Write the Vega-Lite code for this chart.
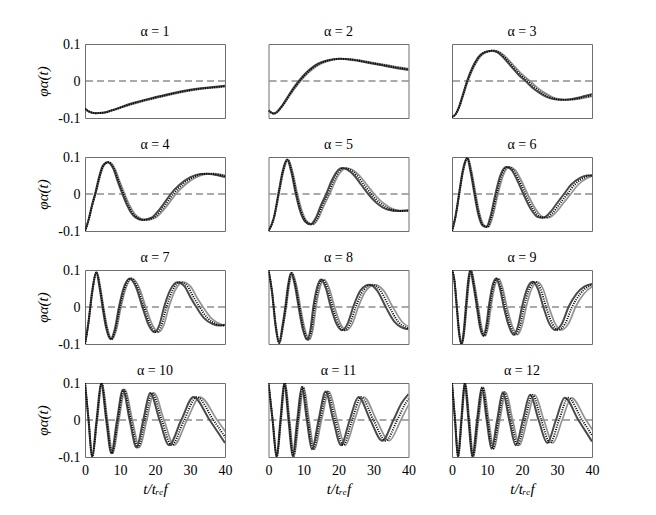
{
  "$schema": "https://vega.github.io/schema/vega-lite/v6.json",
  "background": "white",
  "padding": {"left": 35, "top": 24, "right": 5, "bottom": 5},
  "data": {"values": [
    {"a":1,"s":"A","t":0,"y":-0.075},{"a":1,"s":"A","t":1,"y":-0.082},{"a":1,"s":"A","t":3,"y":-0.087},{"a":1,"s":"A","t":5,"y":-0.086},{"a":1,"s":"A","t":8,"y":-0.078},{"a":1,"s":"A","t":11,"y":-0.068},{"a":1,"s":"A","t":14,"y":-0.059},{"a":1,"s":"A","t":17,"y":-0.051},{"a":1,"s":"A","t":20,"y":-0.044},{"a":1,"s":"A","t":24,"y":-0.035},{"a":1,"s":"A","t":28,"y":-0.027},{"a":1,"s":"A","t":32,"y":-0.021},{"a":1,"s":"A","t":36,"y":-0.017},{"a":1,"s":"A","t":40,"y":-0.013},
    {"a":1,"s":"B","t":0,"y":-0.075},{"a":1,"s":"B","t":1.03,"y":-0.082},{"a":1,"s":"B","t":3.09,"y":-0.087},{"a":1,"s":"B","t":5.15,"y":-0.086},{"a":1,"s":"B","t":8.24,"y":-0.078},{"a":1,"s":"B","t":11.33,"y":-0.068},{"a":1,"s":"B","t":14.42,"y":-0.059},{"a":1,"s":"B","t":17.51,"y":-0.051},{"a":1,"s":"B","t":20.6,"y":-0.044},{"a":1,"s":"B","t":24.72,"y":-0.035},{"a":1,"s":"B","t":28.84,"y":-0.027},{"a":1,"s":"B","t":32.96,"y":-0.021},{"a":1,"s":"B","t":37.08,"y":-0.017},{"a":1,"s":"B","t":41.2,"y":-0.013},
    {"a":1,"s":"C","t":0,"y":-0.075},{"a":1,"s":"C","t":1.06,"y":-0.082},{"a":1,"s":"C","t":3.18,"y":-0.087},{"a":1,"s":"C","t":5.3,"y":-0.086},{"a":1,"s":"C","t":8.48,"y":-0.078},{"a":1,"s":"C","t":11.66,"y":-0.068},{"a":1,"s":"C","t":14.84,"y":-0.059},{"a":1,"s":"C","t":18.02,"y":-0.051},{"a":1,"s":"C","t":21.2,"y":-0.044},{"a":1,"s":"C","t":25.44,"y":-0.035},{"a":1,"s":"C","t":29.68,"y":-0.027},{"a":1,"s":"C","t":33.92,"y":-0.021},{"a":1,"s":"C","t":38.16,"y":-0.017},{"a":1,"s":"C","t":42.4,"y":-0.013},

    {"a":2,"s":"A","t":0,"y":-0.08},{"a":2,"s":"A","t":1.5,"y":-0.088},{"a":2,"s":"A","t":4,"y":-0.065},{"a":2,"s":"A","t":6,"y":-0.035},{"a":2,"s":"A","t":8,"y":-0.008},{"a":2,"s":"A","t":10,"y":0.015},{"a":2,"s":"A","t":12,"y":0.033},{"a":2,"s":"A","t":14,"y":0.046},{"a":2,"s":"A","t":17,"y":0.056},{"a":2,"s":"A","t":20,"y":0.06},{"a":2,"s":"A","t":24,"y":0.057},{"a":2,"s":"A","t":28,"y":0.05},{"a":2,"s":"A","t":32,"y":0.043},{"a":2,"s":"A","t":36,"y":0.036},{"a":2,"s":"A","t":40,"y":0.03},
    {"a":2,"s":"B","t":0,"y":-0.08},{"a":2,"s":"B","t":1.55,"y":-0.088},{"a":2,"s":"B","t":4.12,"y":-0.065},{"a":2,"s":"B","t":6.18,"y":-0.035},{"a":2,"s":"B","t":8.24,"y":-0.008},{"a":2,"s":"B","t":10.3,"y":0.015},{"a":2,"s":"B","t":12.36,"y":0.033},{"a":2,"s":"B","t":14.42,"y":0.046},{"a":2,"s":"B","t":17.51,"y":0.056},{"a":2,"s":"B","t":20.6,"y":0.06},{"a":2,"s":"B","t":24.72,"y":0.057},{"a":2,"s":"B","t":28.84,"y":0.05},{"a":2,"s":"B","t":32.96,"y":0.043},{"a":2,"s":"B","t":37.08,"y":0.036},{"a":2,"s":"B","t":41.2,"y":0.03},
    {"a":2,"s":"C","t":0,"y":-0.08},{"a":2,"s":"C","t":1.59,"y":-0.088},{"a":2,"s":"C","t":4.24,"y":-0.065},{"a":2,"s":"C","t":6.36,"y":-0.035},{"a":2,"s":"C","t":8.48,"y":-0.008},{"a":2,"s":"C","t":10.6,"y":0.015},{"a":2,"s":"C","t":12.72,"y":0.033},{"a":2,"s":"C","t":14.84,"y":0.046},{"a":2,"s":"C","t":18.02,"y":0.056},{"a":2,"s":"C","t":21.2,"y":0.06},{"a":2,"s":"C","t":25.44,"y":0.057},{"a":2,"s":"C","t":29.68,"y":0.05},{"a":2,"s":"C","t":33.92,"y":0.043},{"a":2,"s":"C","t":38.16,"y":0.036},{"a":2,"s":"C","t":42.4,"y":0.03},

    {"a":3,"s":"A","t":0,"y":-0.097},{"a":3,"s":"A","t":1,"y":-0.09},{"a":3,"s":"A","t":2,"y":-0.07},{"a":3,"s":"A","t":3,"y":-0.04},{"a":3,"s":"A","t":4.3,"y":0},{"a":3,"s":"A","t":6,"y":0.04},{"a":3,"s":"A","t":8,"y":0.07},{"a":3,"s":"A","t":10,"y":0.08},{"a":3,"s":"A","t":11.5,"y":0.082},{"a":3,"s":"A","t":13,"y":0.077},{"a":3,"s":"A","t":15,"y":0.06},{"a":3,"s":"A","t":17,"y":0.038},{"a":3,"s":"A","t":19,"y":0.017},{"a":3,"s":"A","t":21,"y":0},{"a":3,"s":"A","t":23,"y":-0.018},{"a":3,"s":"A","t":25,"y":-0.032},{"a":3,"s":"A","t":27,"y":-0.043},{"a":3,"s":"A","t":29,"y":-0.049},{"a":3,"s":"A","t":31,"y":-0.051},{"a":3,"s":"A","t":34,"y":-0.049},{"a":3,"s":"A","t":37,"y":-0.043},{"a":3,"s":"A","t":40,"y":-0.036},
    {"a":3,"s":"B","t":0,"y":-0.097},{"a":3,"s":"B","t":1.03,"y":-0.09},{"a":3,"s":"B","t":2.06,"y":-0.07},{"a":3,"s":"B","t":3.09,"y":-0.04},{"a":3,"s":"B","t":4.43,"y":0},{"a":3,"s":"B","t":6.18,"y":0.04},{"a":3,"s":"B","t":8.24,"y":0.07},{"a":3,"s":"B","t":10.3,"y":0.08},{"a":3,"s":"B","t":11.85,"y":0.082},{"a":3,"s":"B","t":13.39,"y":0.077},{"a":3,"s":"B","t":15.45,"y":0.06},{"a":3,"s":"B","t":17.51,"y":0.038},{"a":3,"s":"B","t":19.57,"y":0.017},{"a":3,"s":"B","t":21.63,"y":0},{"a":3,"s":"B","t":23.69,"y":-0.018},{"a":3,"s":"B","t":25.75,"y":-0.032},{"a":3,"s":"B","t":27.81,"y":-0.043},{"a":3,"s":"B","t":29.87,"y":-0.049},{"a":3,"s":"B","t":31.93,"y":-0.051},{"a":3,"s":"B","t":35.02,"y":-0.049},{"a":3,"s":"B","t":38.11,"y":-0.043},{"a":3,"s":"B","t":41.2,"y":-0.036},
    {"a":3,"s":"C","t":0,"y":-0.097},{"a":3,"s":"C","t":1.06,"y":-0.09},{"a":3,"s":"C","t":2.12,"y":-0.07},{"a":3,"s":"C","t":3.18,"y":-0.04},{"a":3,"s":"C","t":4.56,"y":0},{"a":3,"s":"C","t":6.36,"y":0.04},{"a":3,"s":"C","t":8.48,"y":0.07},{"a":3,"s":"C","t":10.6,"y":0.08},{"a":3,"s":"C","t":12.19,"y":0.082},{"a":3,"s":"C","t":13.78,"y":0.077},{"a":3,"s":"C","t":15.9,"y":0.06},{"a":3,"s":"C","t":18.02,"y":0.038},{"a":3,"s":"C","t":20.14,"y":0.017},{"a":3,"s":"C","t":22.26,"y":0},{"a":3,"s":"C","t":24.38,"y":-0.018},{"a":3,"s":"C","t":26.5,"y":-0.032},{"a":3,"s":"C","t":28.62,"y":-0.043},{"a":3,"s":"C","t":30.74,"y":-0.049},{"a":3,"s":"C","t":32.86,"y":-0.051},{"a":3,"s":"C","t":36.04,"y":-0.049},{"a":3,"s":"C","t":39.22,"y":-0.043},{"a":3,"s":"C","t":42.4,"y":-0.036},

    {"a":4,"s":"A","t":0,"y":-0.1},{"a":4,"s":"A","t":1,"y":-0.07},{"a":4,"s":"A","t":2,"y":-0.03},{"a":4,"s":"A","t":3,"y":0.005},{"a":4,"s":"A","t":4,"y":0.045},{"a":4,"s":"A","t":5,"y":0.075},{"a":4,"s":"A","t":6.4,"y":0.086},{"a":4,"s":"A","t":8,"y":0.07},{"a":4,"s":"A","t":9.5,"y":0.03},{"a":4,"s":"A","t":10.7,"y":0},{"a":4,"s":"A","t":12,"y":-0.03},{"a":4,"s":"A","t":14,"y":-0.06},{"a":4,"s":"A","t":16.5,"y":-0.07},{"a":4,"s":"A","t":19,"y":-0.064},{"a":4,"s":"A","t":21,"y":-0.045},{"a":4,"s":"A","t":23,"y":-0.02},{"a":4,"s":"A","t":24.5,"y":0},{"a":4,"s":"A","t":27,"y":0.025},{"a":4,"s":"A","t":30,"y":0.045},{"a":4,"s":"A","t":33,"y":0.054},{"a":4,"s":"A","t":35,"y":0.055},{"a":4,"s":"A","t":37,"y":0.052},{"a":4,"s":"A","t":40,"y":0.046},
    {"a":4,"s":"B","t":0,"y":-0.1},{"a":4,"s":"B","t":1.03,"y":-0.07},{"a":4,"s":"B","t":2.06,"y":-0.03},{"a":4,"s":"B","t":3.09,"y":0.005},{"a":4,"s":"B","t":4.12,"y":0.045},{"a":4,"s":"B","t":5.15,"y":0.075},{"a":4,"s":"B","t":6.59,"y":0.086},{"a":4,"s":"B","t":8.24,"y":0.07},{"a":4,"s":"B","t":9.79,"y":0.03},{"a":4,"s":"B","t":11.02,"y":0},{"a":4,"s":"B","t":12.36,"y":-0.03},{"a":4,"s":"B","t":14.42,"y":-0.06},{"a":4,"s":"B","t":17,"y":-0.07},{"a":4,"s":"B","t":19.57,"y":-0.064},{"a":4,"s":"B","t":21.63,"y":-0.045},{"a":4,"s":"B","t":23.69,"y":-0.02},{"a":4,"s":"B","t":25.24,"y":0},{"a":4,"s":"B","t":27.81,"y":0.025},{"a":4,"s":"B","t":30.9,"y":0.045},{"a":4,"s":"B","t":33.99,"y":0.054},{"a":4,"s":"B","t":36.05,"y":0.055},{"a":4,"s":"B","t":38.11,"y":0.052},{"a":4,"s":"B","t":41.2,"y":0.046},
    {"a":4,"s":"C","t":0,"y":-0.1},{"a":4,"s":"C","t":1.06,"y":-0.07},{"a":4,"s":"C","t":2.12,"y":-0.03},{"a":4,"s":"C","t":3.18,"y":0.005},{"a":4,"s":"C","t":4.24,"y":0.045},{"a":4,"s":"C","t":5.3,"y":0.075},{"a":4,"s":"C","t":6.78,"y":0.086},{"a":4,"s":"C","t":8.48,"y":0.07},{"a":4,"s":"C","t":10.07,"y":0.03},{"a":4,"s":"C","t":11.34,"y":0},{"a":4,"s":"C","t":12.72,"y":-0.03},{"a":4,"s":"C","t":14.84,"y":-0.06},{"a":4,"s":"C","t":17.49,"y":-0.07},{"a":4,"s":"C","t":20.14,"y":-0.064},{"a":4,"s":"C","t":22.26,"y":-0.045},{"a":4,"s":"C","t":24.38,"y":-0.02},{"a":4,"s":"C","t":25.97,"y":0},{"a":4,"s":"C","t":28.62,"y":0.025},{"a":4,"s":"C","t":31.8,"y":0.045},{"a":4,"s":"C","t":34.98,"y":0.054},{"a":4,"s":"C","t":37.1,"y":0.055},{"a":4,"s":"C","t":39.22,"y":0.052},{"a":4,"s":"C","t":42.4,"y":0.046},

    {"a":5,"s":"A","t":0,"y":-0.1},{"a":5,"s":"A","t":1.5,"y":-0.065},{"a":5,"s":"A","t":3,"y":0.01},{"a":5,"s":"A","t":4,"y":0.06},{"a":5,"s":"A","t":5.3,"y":0.093},{"a":5,"s":"A","t":6.5,"y":0.06},{"a":5,"s":"A","t":7.8,"y":0},{"a":5,"s":"A","t":9,"y":-0.045},{"a":5,"s":"A","t":10.5,"y":-0.075},{"a":5,"s":"A","t":12,"y":-0.082},{"a":5,"s":"A","t":13.5,"y":-0.065},{"a":5,"s":"A","t":15,"y":-0.03},{"a":5,"s":"A","t":16.5,"y":0},{"a":5,"s":"A","t":18,"y":0.035},{"a":5,"s":"A","t":19.5,"y":0.06},{"a":5,"s":"A","t":21,"y":0.07},{"a":5,"s":"A","t":22.5,"y":0.066},{"a":5,"s":"A","t":24.5,"y":0.05},{"a":5,"s":"A","t":26.5,"y":0.025},{"a":5,"s":"A","t":28.5,"y":0},{"a":5,"s":"A","t":31,"y":-0.025},{"a":5,"s":"A","t":34,"y":-0.042},{"a":5,"s":"A","t":37,"y":-0.046},{"a":5,"s":"A","t":40,"y":-0.044},
    {"a":5,"s":"B","t":0,"y":-0.1},{"a":5,"s":"B","t":1.55,"y":-0.065},{"a":5,"s":"B","t":3.09,"y":0.01},{"a":5,"s":"B","t":4.12,"y":0.06},{"a":5,"s":"B","t":5.46,"y":0.093},{"a":5,"s":"B","t":6.7,"y":0.06},{"a":5,"s":"B","t":8.03,"y":0},{"a":5,"s":"B","t":9.27,"y":-0.045},{"a":5,"s":"B","t":10.82,"y":-0.075},{"a":5,"s":"B","t":12.36,"y":-0.082},{"a":5,"s":"B","t":13.91,"y":-0.065},{"a":5,"s":"B","t":15.45,"y":-0.03},{"a":5,"s":"B","t":17,"y":0},{"a":5,"s":"B","t":18.54,"y":0.035},{"a":5,"s":"B","t":20.09,"y":0.06},{"a":5,"s":"B","t":21.63,"y":0.07},{"a":5,"s":"B","t":23.18,"y":0.066},{"a":5,"s":"B","t":25.24,"y":0.05},{"a":5,"s":"B","t":27.3,"y":0.025},{"a":5,"s":"B","t":29.36,"y":0},{"a":5,"s":"B","t":31.93,"y":-0.025},{"a":5,"s":"B","t":35.02,"y":-0.042},{"a":5,"s":"B","t":38.11,"y":-0.046},{"a":5,"s":"B","t":41.2,"y":-0.044},
    {"a":5,"s":"C","t":0,"y":-0.1},{"a":5,"s":"C","t":1.59,"y":-0.065},{"a":5,"s":"C","t":3.18,"y":0.01},{"a":5,"s":"C","t":4.24,"y":0.06},{"a":5,"s":"C","t":5.62,"y":0.093},{"a":5,"s":"C","t":6.89,"y":0.06},{"a":5,"s":"C","t":8.27,"y":0},{"a":5,"s":"C","t":9.54,"y":-0.045},{"a":5,"s":"C","t":11.13,"y":-0.075},{"a":5,"s":"C","t":12.72,"y":-0.082},{"a":5,"s":"C","t":14.31,"y":-0.065},{"a":5,"s":"C","t":15.9,"y":-0.03},{"a":5,"s":"C","t":17.49,"y":0},{"a":5,"s":"C","t":19.08,"y":0.035},{"a":5,"s":"C","t":20.67,"y":0.06},{"a":5,"s":"C","t":22.26,"y":0.07},{"a":5,"s":"C","t":23.85,"y":0.066},{"a":5,"s":"C","t":25.97,"y":0.05},{"a":5,"s":"C","t":28.09,"y":0.025},{"a":5,"s":"C","t":30.21,"y":0},{"a":5,"s":"C","t":32.86,"y":-0.025},{"a":5,"s":"C","t":36.04,"y":-0.042},{"a":5,"s":"C","t":39.22,"y":-0.046},{"a":5,"s":"C","t":42.4,"y":-0.044},

    {"a":6,"s":"A","t":0,"y":-0.1},{"a":6,"s":"A","t":1,"y":-0.06},{"a":6,"s":"A","t":2,"y":0},{"a":6,"s":"A","t":3,"y":0.06},{"a":6,"s":"A","t":4.3,"y":0.097},{"a":6,"s":"A","t":5.3,"y":0.06},{"a":6,"s":"A","t":6.4,"y":0},{"a":6,"s":"A","t":7.5,"y":-0.055},{"a":6,"s":"A","t":8.7,"y":-0.085},{"a":6,"s":"A","t":9.8,"y":-0.089},{"a":6,"s":"A","t":11,"y":-0.06},{"a":6,"s":"A","t":12.4,"y":0},{"a":6,"s":"A","t":13.8,"y":0.05},{"a":6,"s":"A","t":15.5,"y":0.073},{"a":6,"s":"A","t":17,"y":0.065},{"a":6,"s":"A","t":18.5,"y":0.04},{"a":6,"s":"A","t":20.4,"y":0},{"a":6,"s":"A","t":22.5,"y":-0.04},{"a":6,"s":"A","t":24.5,"y":-0.062},{"a":6,"s":"A","t":26,"y":-0.064},{"a":6,"s":"A","t":28,"y":-0.05},{"a":6,"s":"A","t":30,"y":-0.025},{"a":6,"s":"A","t":32,"y":0},{"a":6,"s":"A","t":34,"y":0.025},{"a":6,"s":"A","t":36.5,"y":0.043},{"a":6,"s":"A","t":38.5,"y":0.05},{"a":6,"s":"A","t":40,"y":0.05},
    {"a":6,"s":"B","t":0,"y":-0.1},{"a":6,"s":"B","t":1.03,"y":-0.06},{"a":6,"s":"B","t":2.06,"y":0},{"a":6,"s":"B","t":3.09,"y":0.06},{"a":6,"s":"B","t":4.43,"y":0.097},{"a":6,"s":"B","t":5.46,"y":0.06},{"a":6,"s":"B","t":6.59,"y":0},{"a":6,"s":"B","t":7.73,"y":-0.055},{"a":6,"s":"B","t":8.96,"y":-0.085},{"a":6,"s":"B","t":10.09,"y":-0.089},{"a":6,"s":"B","t":11.33,"y":-0.06},{"a":6,"s":"B","t":12.77,"y":0},{"a":6,"s":"B","t":14.21,"y":0.05},{"a":6,"s":"B","t":15.97,"y":0.073},{"a":6,"s":"B","t":17.51,"y":0.065},{"a":6,"s":"B","t":19.06,"y":0.04},{"a":6,"s":"B","t":21.01,"y":0},{"a":6,"s":"B","t":23.18,"y":-0.04},{"a":6,"s":"B","t":25.24,"y":-0.062},{"a":6,"s":"B","t":26.78,"y":-0.064},{"a":6,"s":"B","t":28.84,"y":-0.05},{"a":6,"s":"B","t":30.9,"y":-0.025},{"a":6,"s":"B","t":32.96,"y":0},{"a":6,"s":"B","t":35.02,"y":0.025},{"a":6,"s":"B","t":37.6,"y":0.043},{"a":6,"s":"B","t":39.66,"y":0.05},{"a":6,"s":"B","t":41.2,"y":0.05},
    {"a":6,"s":"C","t":0,"y":-0.1},{"a":6,"s":"C","t":1.06,"y":-0.06},{"a":6,"s":"C","t":2.12,"y":0},{"a":6,"s":"C","t":3.18,"y":0.06},{"a":6,"s":"C","t":4.56,"y":0.097},{"a":6,"s":"C","t":5.62,"y":0.06},{"a":6,"s":"C","t":6.78,"y":0},{"a":6,"s":"C","t":7.95,"y":-0.055},{"a":6,"s":"C","t":9.22,"y":-0.085},{"a":6,"s":"C","t":10.39,"y":-0.089},{"a":6,"s":"C","t":11.66,"y":-0.06},{"a":6,"s":"C","t":13.14,"y":0},{"a":6,"s":"C","t":14.63,"y":0.05},{"a":6,"s":"C","t":16.43,"y":0.073},{"a":6,"s":"C","t":18.02,"y":0.065},{"a":6,"s":"C","t":19.61,"y":0.04},{"a":6,"s":"C","t":21.62,"y":0},{"a":6,"s":"C","t":23.85,"y":-0.04},{"a":6,"s":"C","t":25.97,"y":-0.062},{"a":6,"s":"C","t":27.56,"y":-0.064},{"a":6,"s":"C","t":29.68,"y":-0.05},{"a":6,"s":"C","t":31.8,"y":-0.025},{"a":6,"s":"C","t":33.92,"y":0},{"a":6,"s":"C","t":36.04,"y":0.025},{"a":6,"s":"C","t":38.69,"y":0.043},{"a":6,"s":"C","t":40.81,"y":0.05},{"a":6,"s":"C","t":42.4,"y":0.05},

    {"a":7,"s":"A","t":0,"y":-0.1},{"a":7,"s":"A","t":1,"y":-0.04},{"a":7,"s":"A","t":2,"y":0.04},{"a":7,"s":"A","t":3.2,"y":0.094},{"a":7,"s":"A","t":4.2,"y":0.05},{"a":7,"s":"A","t":5,"y":0},{"a":7,"s":"A","t":6,"y":-0.055},{"a":7,"s":"A","t":7.3,"y":-0.087},{"a":7,"s":"A","t":8.5,"y":-0.06},{"a":7,"s":"A","t":9.7,"y":0},{"a":7,"s":"A","t":11,"y":0.05},{"a":7,"s":"A","t":12.8,"y":0.077},{"a":7,"s":"A","t":14.5,"y":0.055},{"a":7,"s":"A","t":16.4,"y":0},{"a":7,"s":"A","t":18,"y":-0.045},{"a":7,"s":"A","t":19.8,"y":-0.068},{"a":7,"s":"A","t":21.2,"y":-0.05},{"a":7,"s":"A","t":22.6,"y":0},{"a":7,"s":"A","t":24.3,"y":0.045},{"a":7,"s":"A","t":26.4,"y":0.067},{"a":7,"s":"A","t":28.5,"y":0.055},{"a":7,"s":"A","t":30.2,"y":0.025},{"a":7,"s":"A","t":31.8,"y":0},{"a":7,"s":"A","t":34,"y":-0.03},{"a":7,"s":"A","t":36.5,"y":-0.046},{"a":7,"s":"A","t":38.5,"y":-0.05},{"a":7,"s":"A","t":40,"y":-0.048},
    {"a":7,"s":"B","t":0,"y":-0.1},{"a":7,"s":"B","t":1.03,"y":-0.04},{"a":7,"s":"B","t":2.06,"y":0.04},{"a":7,"s":"B","t":3.3,"y":0.094},{"a":7,"s":"B","t":4.33,"y":0.05},{"a":7,"s":"B","t":5.15,"y":0},{"a":7,"s":"B","t":6.18,"y":-0.055},{"a":7,"s":"B","t":7.52,"y":-0.087},{"a":7,"s":"B","t":8.76,"y":-0.06},{"a":7,"s":"B","t":9.99,"y":0},{"a":7,"s":"B","t":11.33,"y":0.05},{"a":7,"s":"B","t":13.18,"y":0.077},{"a":7,"s":"B","t":14.94,"y":0.055},{"a":7,"s":"B","t":16.89,"y":0},{"a":7,"s":"B","t":18.54,"y":-0.045},{"a":7,"s":"B","t":20.39,"y":-0.068},{"a":7,"s":"B","t":21.84,"y":-0.05},{"a":7,"s":"B","t":23.28,"y":0},{"a":7,"s":"B","t":25.03,"y":0.045},{"a":7,"s":"B","t":27.19,"y":0.067},{"a":7,"s":"B","t":29.36,"y":0.055},{"a":7,"s":"B","t":31.11,"y":0.025},{"a":7,"s":"B","t":32.75,"y":0},{"a":7,"s":"B","t":35.02,"y":-0.03},{"a":7,"s":"B","t":37.6,"y":-0.046},{"a":7,"s":"B","t":39.66,"y":-0.05},{"a":7,"s":"B","t":41.2,"y":-0.048},
    {"a":7,"s":"C","t":0,"y":-0.1},{"a":7,"s":"C","t":1.06,"y":-0.04},{"a":7,"s":"C","t":2.12,"y":0.04},{"a":7,"s":"C","t":3.39,"y":0.094},{"a":7,"s":"C","t":4.45,"y":0.05},{"a":7,"s":"C","t":5.3,"y":0},{"a":7,"s":"C","t":6.36,"y":-0.055},{"a":7,"s":"C","t":7.74,"y":-0.087},{"a":7,"s":"C","t":9.01,"y":-0.06},{"a":7,"s":"C","t":10.28,"y":0},{"a":7,"s":"C","t":11.66,"y":0.05},{"a":7,"s":"C","t":13.57,"y":0.077},{"a":7,"s":"C","t":15.37,"y":0.055},{"a":7,"s":"C","t":17.38,"y":0},{"a":7,"s":"C","t":19.08,"y":-0.045},{"a":7,"s":"C","t":20.99,"y":-0.068},{"a":7,"s":"C","t":22.47,"y":-0.05},{"a":7,"s":"C","t":23.96,"y":0},{"a":7,"s":"C","t":25.76,"y":0.045},{"a":7,"s":"C","t":27.98,"y":0.067},{"a":7,"s":"C","t":30.21,"y":0.055},{"a":7,"s":"C","t":32.01,"y":0.025},{"a":7,"s":"C","t":33.71,"y":0},{"a":7,"s":"C","t":36.04,"y":-0.03},{"a":7,"s":"C","t":38.69,"y":-0.046},{"a":7,"s":"C","t":40.81,"y":-0.05},{"a":7,"s":"C","t":42.4,"y":-0.048},

    {"a":8,"s":"A","t":0,"y":0.1},{"a":8,"s":"A","t":1,"y":0.04},{"a":8,"s":"A","t":2,"y":-0.05},{"a":8,"s":"A","t":3,"y":-0.097},{"a":8,"s":"A","t":4,"y":-0.05},{"a":8,"s":"A","t":4.8,"y":0},{"a":8,"s":"A","t":5.6,"y":0.06},{"a":8,"s":"A","t":6.4,"y":0.092},{"a":8,"s":"A","t":7.5,"y":0.06},{"a":8,"s":"A","t":8.6,"y":0},{"a":8,"s":"A","t":9.8,"y":-0.06},{"a":8,"s":"A","t":11,"y":-0.088},{"a":8,"s":"A","t":12,"y":-0.06},{"a":8,"s":"A","t":12.8,"y":0},{"a":8,"s":"A","t":13.8,"y":0.05},{"a":8,"s":"A","t":15,"y":0.074},{"a":8,"s":"A","t":16.4,"y":0.05},{"a":8,"s":"A","t":17.8,"y":0},{"a":8,"s":"A","t":19.4,"y":-0.045},{"a":8,"s":"A","t":21,"y":-0.063},{"a":8,"s":"A","t":22.6,"y":-0.045},{"a":8,"s":"A","t":24.2,"y":0},{"a":8,"s":"A","t":26.3,"y":0.045},{"a":8,"s":"A","t":28.8,"y":0.06},{"a":8,"s":"A","t":31,"y":0.045},{"a":8,"s":"A","t":33.5,"y":0},{"a":8,"s":"A","t":36,"y":-0.04},{"a":8,"s":"A","t":38,"y":-0.055},{"a":8,"s":"A","t":40,"y":-0.06},
    {"a":8,"s":"B","t":0,"y":0.1},{"a":8,"s":"B","t":1.03,"y":0.04},{"a":8,"s":"B","t":2.06,"y":-0.05},{"a":8,"s":"B","t":3.09,"y":-0.097},{"a":8,"s":"B","t":4.12,"y":-0.05},{"a":8,"s":"B","t":4.94,"y":0},{"a":8,"s":"B","t":5.77,"y":0.06},{"a":8,"s":"B","t":6.59,"y":0.092},{"a":8,"s":"B","t":7.73,"y":0.06},{"a":8,"s":"B","t":8.86,"y":0},{"a":8,"s":"B","t":10.09,"y":-0.06},{"a":8,"s":"B","t":11.33,"y":-0.088},{"a":8,"s":"B","t":12.36,"y":-0.06},{"a":8,"s":"B","t":13.18,"y":0},{"a":8,"s":"B","t":14.21,"y":0.05},{"a":8,"s":"B","t":15.45,"y":0.074},{"a":8,"s":"B","t":16.89,"y":0.05},{"a":8,"s":"B","t":18.33,"y":0},{"a":8,"s":"B","t":19.98,"y":-0.045},{"a":8,"s":"B","t":21.63,"y":-0.063},{"a":8,"s":"B","t":23.28,"y":-0.045},{"a":8,"s":"B","t":24.93,"y":0},{"a":8,"s":"B","t":27.09,"y":0.045},{"a":8,"s":"B","t":29.66,"y":0.06},{"a":8,"s":"B","t":31.93,"y":0.045},{"a":8,"s":"B","t":34.51,"y":0},{"a":8,"s":"B","t":37.08,"y":-0.04},{"a":8,"s":"B","t":39.14,"y":-0.055},{"a":8,"s":"B","t":41.2,"y":-0.06},
    {"a":8,"s":"C","t":0,"y":0.1},{"a":8,"s":"C","t":1.06,"y":0.04},{"a":8,"s":"C","t":2.12,"y":-0.05},{"a":8,"s":"C","t":3.18,"y":-0.097},{"a":8,"s":"C","t":4.24,"y":-0.05},{"a":8,"s":"C","t":5.09,"y":0},{"a":8,"s":"C","t":5.94,"y":0.06},{"a":8,"s":"C","t":6.78,"y":0.092},{"a":8,"s":"C","t":7.95,"y":0.06},{"a":8,"s":"C","t":9.12,"y":0},{"a":8,"s":"C","t":10.39,"y":-0.06},{"a":8,"s":"C","t":11.66,"y":-0.088},{"a":8,"s":"C","t":12.72,"y":-0.06},{"a":8,"s":"C","t":13.57,"y":0},{"a":8,"s":"C","t":14.63,"y":0.05},{"a":8,"s":"C","t":15.9,"y":0.074},{"a":8,"s":"C","t":17.38,"y":0.05},{"a":8,"s":"C","t":18.87,"y":0},{"a":8,"s":"C","t":20.56,"y":-0.045},{"a":8,"s":"C","t":22.26,"y":-0.063},{"a":8,"s":"C","t":23.96,"y":-0.045},{"a":8,"s":"C","t":25.65,"y":0},{"a":8,"s":"C","t":27.88,"y":0.045},{"a":8,"s":"C","t":30.53,"y":0.06},{"a":8,"s":"C","t":32.86,"y":0.045},{"a":8,"s":"C","t":35.51,"y":0},{"a":8,"s":"C","t":38.16,"y":-0.04},{"a":8,"s":"C","t":40.28,"y":-0.055},{"a":8,"s":"C","t":42.4,"y":-0.06},

    {"a":9,"s":"A","t":0,"y":0.1},{"a":9,"s":"A","t":0.7,"y":0.07},{"a":9,"s":"A","t":1.35,"y":0},{"a":9,"s":"A","t":2,"y":-0.07},{"a":9,"s":"A","t":2.7,"y":-0.1},{"a":9,"s":"A","t":3.3,"y":-0.07},{"a":9,"s":"A","t":3.95,"y":0},{"a":9,"s":"A","t":4.6,"y":0.07},{"a":9,"s":"A","t":5.2,"y":0.1},{"a":9,"s":"A","t":6.1,"y":0.06},{"a":9,"s":"A","t":7.1,"y":0},{"a":9,"s":"A","t":8,"y":-0.055},{"a":9,"s":"A","t":9,"y":-0.078},{"a":9,"s":"A","t":9.8,"y":-0.05},{"a":9,"s":"A","t":10.5,"y":0},{"a":9,"s":"A","t":11.5,"y":0.055},{"a":9,"s":"A","t":12.6,"y":0.077},{"a":9,"s":"A","t":13.7,"y":0.05},{"a":9,"s":"A","t":14.8,"y":0},{"a":9,"s":"A","t":16.2,"y":-0.05},{"a":9,"s":"A","t":17.6,"y":-0.075},{"a":9,"s":"A","t":18.9,"y":-0.05},{"a":9,"s":"A","t":20,"y":0},{"a":9,"s":"A","t":21.5,"y":0.05},{"a":9,"s":"A","t":23,"y":0.068},{"a":9,"s":"A","t":24.5,"y":0.05},{"a":9,"s":"A","t":26.1,"y":0},{"a":9,"s":"A","t":27.8,"y":-0.045},{"a":9,"s":"A","t":29.5,"y":-0.062},{"a":9,"s":"A","t":31.4,"y":-0.045},{"a":9,"s":"A","t":33.3,"y":0},{"a":9,"s":"A","t":35.5,"y":0.035},{"a":9,"s":"A","t":37.8,"y":0.055},{"a":9,"s":"A","t":40,"y":0.062},
    {"a":9,"s":"B","t":0,"y":0.1},{"a":9,"s":"B","t":0.72,"y":0.07},{"a":9,"s":"B","t":1.39,"y":0},{"a":9,"s":"B","t":2.06,"y":-0.07},{"a":9,"s":"B","t":2.78,"y":-0.1},{"a":9,"s":"B","t":3.4,"y":-0.07},{"a":9,"s":"B","t":4.07,"y":0},{"a":9,"s":"B","t":4.74,"y":0.07},{"a":9,"s":"B","t":5.36,"y":0.1},{"a":9,"s":"B","t":6.28,"y":0.06},{"a":9,"s":"B","t":7.31,"y":0},{"a":9,"s":"B","t":8.24,"y":-0.055},{"a":9,"s":"B","t":9.27,"y":-0.078},{"a":9,"s":"B","t":10.09,"y":-0.05},{"a":9,"s":"B","t":10.82,"y":0},{"a":9,"s":"B","t":11.85,"y":0.055},{"a":9,"s":"B","t":12.98,"y":0.077},{"a":9,"s":"B","t":14.11,"y":0.05},{"a":9,"s":"B","t":15.24,"y":0},{"a":9,"s":"B","t":16.69,"y":-0.05},{"a":9,"s":"B","t":18.13,"y":-0.075},{"a":9,"s":"B","t":19.47,"y":-0.05},{"a":9,"s":"B","t":20.6,"y":0},{"a":9,"s":"B","t":22.15,"y":0.05},{"a":9,"s":"B","t":23.69,"y":0.068},{"a":9,"s":"B","t":25.24,"y":0.05},{"a":9,"s":"B","t":26.88,"y":0},{"a":9,"s":"B","t":28.63,"y":-0.045},{"a":9,"s":"B","t":30.39,"y":-0.062},{"a":9,"s":"B","t":32.34,"y":-0.045},{"a":9,"s":"B","t":34.3,"y":0},{"a":9,"s":"B","t":36.57,"y":0.035},{"a":9,"s":"B","t":38.93,"y":0.055},{"a":9,"s":"B","t":41.2,"y":0.062},
    {"a":9,"s":"C","t":0,"y":0.1},{"a":9,"s":"C","t":0.74,"y":0.07},{"a":9,"s":"C","t":1.43,"y":0},{"a":9,"s":"C","t":2.12,"y":-0.07},{"a":9,"s":"C","t":2.86,"y":-0.1},{"a":9,"s":"C","t":3.5,"y":-0.07},{"a":9,"s":"C","t":4.19,"y":0},{"a":9,"s":"C","t":4.88,"y":0.07},{"a":9,"s":"C","t":5.51,"y":0.1},{"a":9,"s":"C","t":6.47,"y":0.06},{"a":9,"s":"C","t":7.53,"y":0},{"a":9,"s":"C","t":8.48,"y":-0.055},{"a":9,"s":"C","t":9.54,"y":-0.078},{"a":9,"s":"C","t":10.39,"y":-0.05},{"a":9,"s":"C","t":11.13,"y":0},{"a":9,"s":"C","t":12.19,"y":0.055},{"a":9,"s":"C","t":13.36,"y":0.077},{"a":9,"s":"C","t":14.52,"y":0.05},{"a":9,"s":"C","t":15.69,"y":0},{"a":9,"s":"C","t":17.17,"y":-0.05},{"a":9,"s":"C","t":18.66,"y":-0.075},{"a":9,"s":"C","t":20.03,"y":-0.05},{"a":9,"s":"C","t":21.2,"y":0},{"a":9,"s":"C","t":22.79,"y":0.05},{"a":9,"s":"C","t":24.38,"y":0.068},{"a":9,"s":"C","t":25.97,"y":0.05},{"a":9,"s":"C","t":27.67,"y":0},{"a":9,"s":"C","t":29.47,"y":-0.045},{"a":9,"s":"C","t":31.27,"y":-0.062},{"a":9,"s":"C","t":33.28,"y":-0.045},{"a":9,"s":"C","t":35.3,"y":0},{"a":9,"s":"C","t":37.63,"y":0.035},{"a":9,"s":"C","t":40.07,"y":0.055},{"a":9,"s":"C","t":42.4,"y":0.062},

    {"a":10,"s":"A","t":0,"y":0.1},{"a":10,"s":"A","t":1,"y":0},{"a":10,"s":"A","t":2,"y":-0.1},{"a":10,"s":"A","t":3.3,"y":0},{"a":10,"s":"A","t":4.6,"y":0.1},{"a":10,"s":"A","t":6.05,"y":0},{"a":10,"s":"A","t":7.5,"y":-0.09},{"a":10,"s":"A","t":9.15,"y":0},{"a":10,"s":"A","t":10.8,"y":0.082},{"a":10,"s":"A","t":12.75,"y":0},{"a":10,"s":"A","t":14.7,"y":-0.074},{"a":10,"s":"A","t":16.65,"y":0},{"a":10,"s":"A","t":18.6,"y":0.073},{"a":10,"s":"A","t":21.3,"y":0},{"a":10,"s":"A","t":24,"y":-0.068},{"a":10,"s":"A","t":27.5,"y":0},{"a":10,"s":"A","t":31,"y":0.062},{"a":10,"s":"A","t":35.6,"y":0},{"a":10,"s":"A","t":40,"y":-0.062},
    {"a":10,"s":"B","t":0,"y":0.1},{"a":10,"s":"B","t":1.03,"y":0},{"a":10,"s":"B","t":2.06,"y":-0.1},{"a":10,"s":"B","t":3.4,"y":0},{"a":10,"s":"B","t":4.74,"y":0.1},{"a":10,"s":"B","t":6.23,"y":0},{"a":10,"s":"B","t":7.73,"y":-0.09},{"a":10,"s":"B","t":9.42,"y":0},{"a":10,"s":"B","t":11.12,"y":0.082},{"a":10,"s":"B","t":13.13,"y":0},{"a":10,"s":"B","t":15.14,"y":-0.074},{"a":10,"s":"B","t":17.15,"y":0},{"a":10,"s":"B","t":19.16,"y":0.073},{"a":10,"s":"B","t":21.94,"y":0},{"a":10,"s":"B","t":24.72,"y":-0.068},{"a":10,"s":"B","t":28.33,"y":0},{"a":10,"s":"B","t":31.93,"y":0.062},{"a":10,"s":"B","t":36.67,"y":0},{"a":10,"s":"B","t":41.2,"y":-0.062},
    {"a":10,"s":"C","t":0,"y":0.1},{"a":10,"s":"C","t":1.06,"y":0},{"a":10,"s":"C","t":2.12,"y":-0.1},{"a":10,"s":"C","t":3.5,"y":0},{"a":10,"s":"C","t":4.88,"y":0.1},{"a":10,"s":"C","t":6.41,"y":0},{"a":10,"s":"C","t":7.95,"y":-0.09},{"a":10,"s":"C","t":9.7,"y":0},{"a":10,"s":"C","t":11.45,"y":0.082},{"a":10,"s":"C","t":13.52,"y":0},{"a":10,"s":"C","t":15.58,"y":-0.074},{"a":10,"s":"C","t":17.65,"y":0},{"a":10,"s":"C","t":19.72,"y":0.073},{"a":10,"s":"C","t":22.58,"y":0},{"a":10,"s":"C","t":25.44,"y":-0.068},{"a":10,"s":"C","t":29.15,"y":0},{"a":10,"s":"C","t":32.86,"y":0.062},{"a":10,"s":"C","t":37.74,"y":0},{"a":10,"s":"C","t":42.4,"y":-0.062},

    {"a":11,"s":"A","t":0,"y":0.1},{"a":11,"s":"A","t":1.15,"y":0},{"a":11,"s":"A","t":2.3,"y":-0.1},{"a":11,"s":"A","t":3.4,"y":0},{"a":11,"s":"A","t":4.5,"y":0.1},{"a":11,"s":"A","t":5.7,"y":0},{"a":11,"s":"A","t":6.9,"y":-0.098},{"a":11,"s":"A","t":8.2,"y":0},{"a":11,"s":"A","t":9.5,"y":0.089},{"a":11,"s":"A","t":10.95,"y":0},{"a":11,"s":"A","t":12.4,"y":-0.079},{"a":11,"s":"A","t":14.3,"y":0},{"a":11,"s":"A","t":16.3,"y":0.077},{"a":11,"s":"A","t":18.5,"y":0},{"a":11,"s":"A","t":20.7,"y":-0.068},{"a":11,"s":"A","t":23.2,"y":0},{"a":11,"s":"A","t":25.7,"y":0.062},{"a":11,"s":"A","t":29.1,"y":0},{"a":11,"s":"A","t":32.5,"y":-0.056},{"a":11,"s":"A","t":35.7,"y":0},{"a":11,"s":"A","t":38,"y":0.045},{"a":11,"s":"A","t":40,"y":0.07},
    {"a":11,"s":"B","t":0,"y":0.1},{"a":11,"s":"B","t":1.18,"y":0},{"a":11,"s":"B","t":2.37,"y":-0.1},{"a":11,"s":"B","t":3.5,"y":0},{"a":11,"s":"B","t":4.64,"y":0.1},{"a":11,"s":"B","t":5.87,"y":0},{"a":11,"s":"B","t":7.11,"y":-0.098},{"a":11,"s":"B","t":8.45,"y":0},{"a":11,"s":"B","t":9.79,"y":0.089},{"a":11,"s":"B","t":11.28,"y":0},{"a":11,"s":"B","t":12.77,"y":-0.079},{"a":11,"s":"B","t":14.73,"y":0},{"a":11,"s":"B","t":16.79,"y":0.077},{"a":11,"s":"B","t":19.06,"y":0},{"a":11,"s":"B","t":21.32,"y":-0.068},{"a":11,"s":"B","t":23.9,"y":0},{"a":11,"s":"B","t":26.47,"y":0.062},{"a":11,"s":"B","t":29.97,"y":0},{"a":11,"s":"B","t":33.48,"y":-0.056},{"a":11,"s":"B","t":36.77,"y":0},{"a":11,"s":"B","t":39.14,"y":0.045},{"a":11,"s":"B","t":41.2,"y":0.07},
    {"a":11,"s":"C","t":0,"y":0.1},{"a":11,"s":"C","t":1.22,"y":0},{"a":11,"s":"C","t":2.44,"y":-0.1},{"a":11,"s":"C","t":3.6,"y":0},{"a":11,"s":"C","t":4.77,"y":0.1},{"a":11,"s":"C","t":6.04,"y":0},{"a":11,"s":"C","t":7.31,"y":-0.098},{"a":11,"s":"C","t":8.69,"y":0},{"a":11,"s":"C","t":10.07,"y":0.089},{"a":11,"s":"C","t":11.61,"y":0},{"a":11,"s":"C","t":13.14,"y":-0.079},{"a":11,"s":"C","t":15.16,"y":0},{"a":11,"s":"C","t":17.28,"y":0.077},{"a":11,"s":"C","t":19.61,"y":0},{"a":11,"s":"C","t":21.94,"y":-0.068},{"a":11,"s":"C","t":24.59,"y":0},{"a":11,"s":"C","t":27.24,"y":0.062},{"a":11,"s":"C","t":30.85,"y":0},{"a":11,"s":"C","t":34.45,"y":-0.056},{"a":11,"s":"C","t":37.84,"y":0},{"a":11,"s":"C","t":40.28,"y":0.045},{"a":11,"s":"C","t":42.4,"y":0.07},

    {"a":12,"s":"A","t":0,"y":0.1},{"a":12,"s":"A","t":0.85,"y":0},{"a":12,"s":"A","t":1.7,"y":-0.1},{"a":12,"s":"A","t":2.65,"y":0},{"a":12,"s":"A","t":3.6,"y":0.1},{"a":12,"s":"A","t":4.7,"y":0},{"a":12,"s":"A","t":5.8,"y":-0.1},{"a":12,"s":"A","t":7.15,"y":0},{"a":12,"s":"A","t":8.5,"y":0.088},{"a":12,"s":"A","t":9.9,"y":0},{"a":12,"s":"A","t":11.3,"y":-0.078},{"a":12,"s":"A","t":12.9,"y":0},{"a":12,"s":"A","t":14.5,"y":0.075},{"a":12,"s":"A","t":16.35,"y":0},{"a":12,"s":"A","t":18.2,"y":-0.068},{"a":12,"s":"A","t":20.25,"y":0},{"a":12,"s":"A","t":22.3,"y":0.068},{"a":12,"s":"A","t":24.75,"y":0},{"a":12,"s":"A","t":27.2,"y":-0.062},{"a":12,"s":"A","t":29.7,"y":0},{"a":12,"s":"A","t":32.2,"y":0.06},{"a":12,"s":"A","t":36.1,"y":0},{"a":12,"s":"A","t":40,"y":-0.058},
    {"a":12,"s":"B","t":0,"y":0.1},{"a":12,"s":"B","t":0.88,"y":0},{"a":12,"s":"B","t":1.75,"y":-0.1},{"a":12,"s":"B","t":2.73,"y":0},{"a":12,"s":"B","t":3.71,"y":0.1},{"a":12,"s":"B","t":4.84,"y":0},{"a":12,"s":"B","t":5.97,"y":-0.1},{"a":12,"s":"B","t":7.36,"y":0},{"a":12,"s":"B","t":8.76,"y":0.088},{"a":12,"s":"B","t":10.2,"y":0},{"a":12,"s":"B","t":11.64,"y":-0.078},{"a":12,"s":"B","t":13.29,"y":0},{"a":12,"s":"B","t":14.94,"y":0.075},{"a":12,"s":"B","t":16.84,"y":0},{"a":12,"s":"B","t":18.75,"y":-0.068},{"a":12,"s":"B","t":20.86,"y":0},{"a":12,"s":"B","t":22.97,"y":0.068},{"a":12,"s":"B","t":25.49,"y":0},{"a":12,"s":"B","t":28.02,"y":-0.062},{"a":12,"s":"B","t":30.59,"y":0},{"a":12,"s":"B","t":33.17,"y":0.06},{"a":12,"s":"B","t":37.18,"y":0},{"a":12,"s":"B","t":41.2,"y":-0.058},
    {"a":12,"s":"C","t":0,"y":0.1},{"a":12,"s":"C","t":0.9,"y":0},{"a":12,"s":"C","t":1.8,"y":-0.1},{"a":12,"s":"C","t":2.81,"y":0},{"a":12,"s":"C","t":3.82,"y":0.1},{"a":12,"s":"C","t":4.98,"y":0},{"a":12,"s":"C","t":6.15,"y":-0.1},{"a":12,"s":"C","t":7.58,"y":0},{"a":12,"s":"C","t":9.01,"y":0.088},{"a":12,"s":"C","t":10.49,"y":0},{"a":12,"s":"C","t":11.98,"y":-0.078},{"a":12,"s":"C","t":13.67,"y":0},{"a":12,"s":"C","t":15.37,"y":0.075},{"a":12,"s":"C","t":17.33,"y":0},{"a":12,"s":"C","t":19.29,"y":-0.068},{"a":12,"s":"C","t":21.47,"y":0},{"a":12,"s":"C","t":23.64,"y":0.068},{"a":12,"s":"C","t":26.24,"y":0},{"a":12,"s":"C","t":28.83,"y":-0.062},{"a":12,"s":"C","t":31.48,"y":0},{"a":12,"s":"C","t":34.13,"y":0.06},{"a":12,"s":"C","t":38.27,"y":0},{"a":12,"s":"C","t":42.4,"y":-0.058}
  ]},
  "facet": {
    "field": "a",
    "type": "ordinal",
    "sort": [1, 2, 3, 4, 5, 6, 7, 8, 9, 10, 11, 12],
    "header": {"title": null, "labelExpr": "'α = ' + datum.value"}
  },
  "columns": 3,
  "spacing": {"column": 41.5, "row": 18},
  "spec": {
    "width": 140,
    "height": 74,
    "layer": [
      {
        "transform": [{"filter": "datum.s == 'A' && datum.t == 0"}],
        "mark": {"type": "rule", "color": "#555555", "strokeWidth": 1, "strokeDash": [7, 4]},
        "encoding": {"y": {"datum": 0, "type": "quantitative", "scale": {"domain": [-0.1, 0.1]}}}
      },
      {
        "transform": [{"filter": "datum.s == 'C'"}],
        "mark": {"type": "line", "interpolate": "monotone", "clip": true, "color": "#939393", "strokeWidth": 1.7},
        "encoding": {
          "x": {"field": "t", "type": "quantitative", "scale": {"domain": [0, 40]}, "title": "t/tᵣₑf"},
          "y": {"field": "y", "type": "quantitative", "scale": {"domain": [-0.1, 0.1]}, "title": "φα(t)"}
        }
      },
      {
        "transform": [{"filter": "datum.s == 'A'"}],
        "mark": {"type": "line", "interpolate": "monotone", "clip": true, "color": "#4a4a4a", "strokeWidth": 2},
        "encoding": {
          "x": {"field": "t", "type": "quantitative", "scale": {"domain": [0, 40]}, "title": "t/tᵣₑf"},
          "y": {"field": "y", "type": "quantitative", "scale": {"domain": [-0.1, 0.1]}, "title": "φα(t)"}
        }
      },
      {
        "transform": [{"filter": "datum.s == 'B'"}],
        "mark": {"type": "line", "interpolate": "monotone", "clip": true, "color": "#000000", "strokeWidth": 1.9, "strokeDash": [1, 1.3]},
        "encoding": {
          "x": {"field": "t", "type": "quantitative", "scale": {"domain": [0, 40]}, "title": "t/tᵣₑf"},
          "y": {"field": "y", "type": "quantitative", "scale": {"domain": [-0.1, 0.1]}, "title": "φα(t)"}
        }
      }
    ]
  },
  "config": {
    "view": {"stroke": "#6e6e6e", "strokeWidth": 1},
    "header": {"labelFont": "Liberation Serif", "labelFontSize": 14, "labelColor": "#000000", "labelPadding": 5},
    "axis": {
      "labelFont": "Liberation Serif", "labelFontSize": 14, "labelColor": "#000000",
      "titleFont": "Liberation Serif", "titleFontSize": 15, "titleFontWeight": "normal", "titleFontStyle": "italic", "titleColor": "#000000",
      "ticks": false, "domain": false, "grid": false, "labelFlush": false, "labelOverlap": false
    },
    "axisX": {"values": [0, 20, 40], "format": "d", "labelPadding": 5, "titlePadding": 4},
    "axisY": {"values": [-0.1, 0, 0.1], "labelExpr": "datum.value > 0.05 ? '0.1' : (datum.value < -0.05 ? '-0.1' : '0')", "labelPadding": 4, "titlePadding": 7}
  }
}
